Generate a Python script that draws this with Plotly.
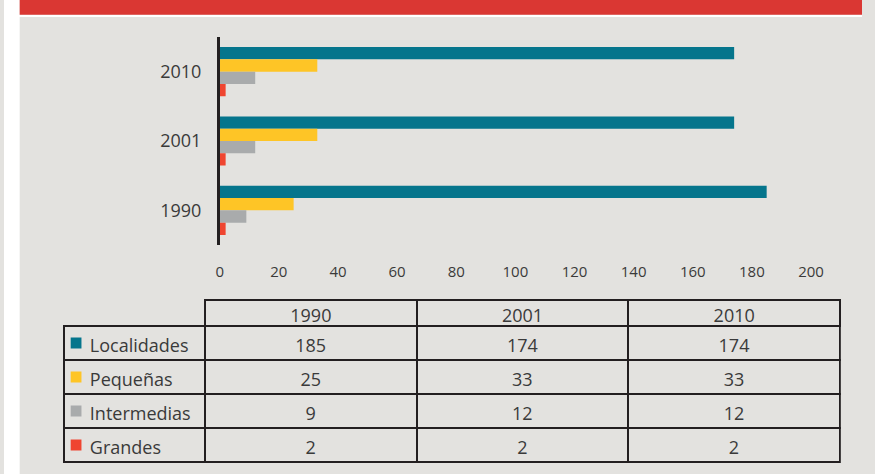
import plotly.graph_objects as go

# ---- data ----
years = ['1990', '2001', '2010']
series_names = ['Localidades', 'Pequeñas', 'Intermedias', 'Grandes']
localidades = [185, 174, 174]
pequenas = [25, 33, 33]
intermedias = [9, 12, 12]
grandes = [2, 2, 2]
x_ticks = [0, 20, 40, 60, 80, 100, 120, 140, 160, 180, 200]

series_values = [localidades, pequenas, intermedias, grandes]
colors = ['#05758c', '#fec526', '#a9abac', '#ef4530']

W, H = 875, 474
BG = '#e3e2df'
TXT = '#3a3a3a'
LINE = '#231f20'
CLEAR = 'rgba(0,0,0,0)'
FONT = 'Open Sans'

# table geometry (pixels)
TBL_LEFT, TBL_COL1, TBL_RIGHT = 61, 205, 853
HEAD_TOP, BODY_TOP, ROW_H = 300, 326, 34
TEXT_DROP = 4  # text sits a little low in the cells of the original


def px_x(v):
    return v / W


def px_y(v):
    return 1 - v / H


fig = go.Figure()

for name, vals, col in zip(series_names, series_values, colors):
    fig.add_trace(go.Bar(
        y=years, x=vals, name=name, orientation='h',
        marker=dict(color=col, line=dict(width=0)),
        showlegend=False, hoverinfo='x+name',
    ))

# ---- table: header (years) ----
fig.add_trace(go.Table(
    domain=dict(x=[px_x(TBL_COL1), px_x(TBL_RIGHT)], y=[px_y(BODY_TOP + 4), px_y(HEAD_TOP)]),
    columnwidth=[1, 1, 1],
    header=dict(values=years, height=BODY_TOP - HEAD_TOP,
                align='center',
                font=dict(family=FONT, size=18, color=TXT),
                fill=dict(color=CLEAR),
                line=dict(color=LINE, width=2)),
    cells=dict(values=[[], [], []]),
))

# ---- table: body ----
labels = ['\u2003' + n for n in series_names]
year_cols = [[s[i] for s in series_values] for i in range(len(years))]
n_rows = len(series_names)
col_widths = [TBL_COL1 - TBL_LEFT] + [(TBL_RIGHT - TBL_COL1) / 3] * 3

# grid of the body (borders only)
fig.add_trace(go.Table(
    domain=dict(x=[px_x(TBL_LEFT), px_x(TBL_RIGHT)],
                y=[px_y(BODY_TOP + n_rows * ROW_H + 3), px_y(BODY_TOP - 16)]),
    columnwidth=col_widths,
    header=dict(values=[], line=dict(width=0), fill=dict(color=CLEAR)),
    cells=dict(values=[[''] * n_rows for _ in range(4)], height=ROW_H,
               fill=dict(color=CLEAR),
               line=dict(color=LINE, width=2)),
))
# texts of the body
fig.add_trace(go.Table(
    domain=dict(x=[px_x(TBL_LEFT), px_x(TBL_RIGHT)],
                y=[px_y(BODY_TOP + n_rows * ROW_H + 3 + TEXT_DROP),
                   px_y(BODY_TOP - 16 + TEXT_DROP)]),
    columnwidth=col_widths,
    header=dict(values=[], line=dict(width=0), fill=dict(color=CLEAR)),
    cells=dict(values=[labels] + year_cols, height=ROW_H,
               align=['left', 'center', 'center', 'center'],
               font=dict(family=FONT, size=18, color=TXT),
               fill=dict(color=CLEAR),
               line=dict(color=CLEAR, width=0)),
))

shapes = [
    # white strip on the left
    dict(type='rect', xref='paper', yref='paper', x0=0, x1=px_x(16), y0=0, y1=1,
         fillcolor='white', line=dict(width=0), layer='below'),
    # white gap under banner
    dict(type='rect', xref='paper', yref='paper', x0=0, x1=1, y0=px_y(17), y1=px_y(14.7),
         fillcolor='white', line=dict(width=0), layer='below'),
    # red banner
    dict(type='rect', xref='paper', yref='paper', x0=px_x(16), x1=1, y0=px_y(14.7), y1=1,
         fillcolor='#da3733', line=dict(width=0), layer='below'),
]
# legend squares inside the label column of the table
for i, c in enumerate(colors):
    yc = BODY_TOP + ROW_H * i + 17
    shapes.append(dict(type='rect', xref='paper', yref='paper',
                       x0=px_x(68), x1=px_x(79), y0=px_y(yc + 5.5), y1=px_y(yc - 5.5),
                       fillcolor=c, line=dict(width=0), layer='above'))

fig.update_layout(
    width=W, height=H, autosize=False,
    margin=dict(l=0, r=0, t=0, b=0),
    paper_bgcolor=BG, plot_bgcolor=BG,
    barmode='group', bargap=0.29, bargroupgap=0,
    font=dict(family=FONT, color=TXT),
    shapes=shapes,
    xaxis=dict(
        domain=[px_x(220), px_x(823)], range=[0, 200],
        tickvals=x_ticks, ticktext=[str(t) for t in x_ticks],
        showgrid=False, zeroline=False, showline=False, ticks='',
        tickfont=dict(family=FONT, size=15, color=TXT),
        ticklabelstandoff=16,
    ),
    yaxis=dict(
        domain=[px_y(245), px_y(37)],
        type='category', categoryorder='array', categoryarray=['2010', '2001', '1990'],
        autorange='reversed',
        showgrid=False, zeroline=False,
        showline=True, linecolor=LINE, linewidth=2.5,
        ticks='', tickfont=dict(family=FONT, size=18, color=TXT),
        ticklabelstandoff=12,
    ),
)

fig.write_html('out.html', config={'displayModeBar': False},
               post_script="document.body.style.margin='0px';")
